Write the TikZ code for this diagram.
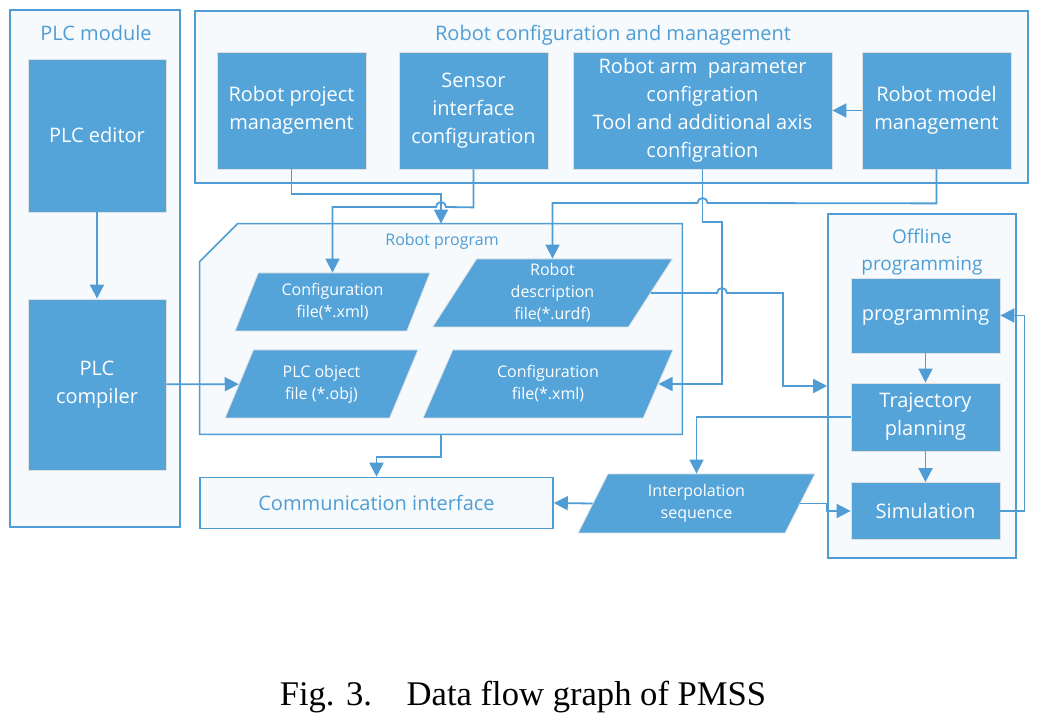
\documentclass[tikz,border=0pt]{standalone}
\usepackage{fontspec}
\setmainfont{Liberation Serif}
\newfontfamily\diagfont{Open Sans}
\usepackage{xcolor}
\usepackage{tikz}
\usetikzlibrary{arrows.meta,shapes.geometric}

\definecolor{boxblue}{RGB}{84,164,218}
\definecolor{lineblue}{RGB}{79,157,212}
\definecolor{ctfill}{RGB}{246,250,253}

\begin{document}
\begin{tikzpicture}[
  x=0.5pt, y=-0.5pt,
  font=\diagfont\fontsize{10}{14}\selectfont,
  bx/.style={draw=black!12, fill=boxblue, text=white, align=center, inner sep=2pt},
  pg/.style={trapezium, trapezium left angle=68, trapezium right angle=112,
             trapezium stretches=true, draw=black!12, fill=boxblue, text=white,
             align=center, inner sep=1pt, font=\diagfont\fontsize{8}{11}\selectfont},
  ct/.style={draw=lineblue, fill=ctfill, line width=0.8pt, inner sep=0pt},
  tl/.style={text=lineblue, align=center, inner sep=0pt},
  ar/.style={-{Triangle[length=7pt,width=7pt]}, draw=lineblue, line width=0.9pt}
]
\useasboundingbox (0,0) rectangle (1039,721);
% containers
\node[ct, minimum width=85pt, minimum height=258.5pt] (plcm) at (95,268.5) {};
\node[ct, minimum width=416.5pt, minimum height=86pt] (rcm) at (611.5,97) {};
\node[minimum width=241pt, minimum height=105pt, inner sep=0pt] (rprog) at (441,329) {};
\filldraw[ct] (rprog.south west) -- ([yshift=-19pt]rprog.north west) -- ([xshift=19pt]rprog.north west)
  -- (rprog.north east) -- (rprog.south east) -- cycle;
\node[ct, minimum width=94pt, minimum height=172pt] (offl) at (922,386) {};
\node[ct, text=lineblue, minimum width=176.5pt, minimum height=25.5pt] (comm) at (376.5,503)
  {Communication interface};
% container titles
\node[tl] (plcmt) at (96,33) {PLC module};
\node[tl] (rcmt) at (613,35) {Robot configuration and management};
\node[tl, font=\diagfont\fontsize{8}{10}\selectfont] (rprogt) at (442,241) {Robot program};
\node[tl, font=\diagfont\fontsize{9.5}{13.5}\selectfont] (offlt) at (922,252) {Offline\\programming};
% PLC module
\node[bx, minimum width=69pt, minimum height=76.5pt] (plced) at (97,135.5) {PLC editor};
\node[bx, minimum width=69pt, minimum height=85.5pt] (plccomp) at (97,384.5) {PLC\\compiler};
% robot configuration and management
\node[bx, minimum width=74.5pt, minimum height=58.5pt] (rpm) at (291.5,110.5) {Robot project\\management};
\node[bx, minimum width=74.5pt, minimum height=58.5pt] (sic) at (473.5,110.5) {Sensor\\interface\\configuration};
\node[bx, minimum width=129.5pt, minimum height=58.5pt] (rapc) at (702.5,110.5)
  {Robot arm\ \ parameter\\configration\\Tool and additional axis\\configration};
\node[bx, minimum width=74.5pt, minimum height=58.5pt] (rmm) at (936.5,110.5) {Robot model\\management};
% robot program files
\node[pg, minimum width=97.5pt, minimum height=29pt] (cfga) at (332.5,302) {Configuration\\file(*.xml)};
\node[pg, minimum width=120.5pt, minimum height=34pt] (urdf) at (552.5,293) {Robot\\description\\file(*.urdf)};
\node[pg, minimum width=96.5pt, minimum height=34pt] (plcobj) at (321.5,384) {PLC object\\file (*.obj)};
\node[pg, minimum width=125pt, minimum height=34pt] (cfgb) at (548,384) {Configuration\\file(*.xml)};
\node[pg, minimum width=118.5pt, minimum height=29.5pt] (interp) at (696.5,503.5) {Interpolation\\sequence};
% offline programming
\node[bx, minimum width=74.5pt, minimum height=37.5pt] (prog) at (925.5,315.5) {programming};
\node[bx, minimum width=74.5pt, minimum height=34pt] (traj) at (925.5,417) {Trajectory\\planning};
\node[bx, minimum width=74.5pt, minimum height=28.5pt] (sim) at (925.5,511) {Simulation};
% caption
\node[anchor=base, inner sep=0pt, font=\fontsize{17.3}{22}\selectfont] (cap) at (523,705)
  {Fig. 3.\quad Data flow graph of PMSS};
% arrows
\draw[ar] (plced) -- (plccomp);
\draw[ar] (plccomp) -- (plcobj);
\draw[ar] (rmm) -- (rapc);
\draw[ar] (rpm.south) -- ++(0,25) -| (rprog.north);
\draw[ar] (sic.south) -- ++(0,38) -- (446,207) arc[start angle=0, end angle=180, radius=2.5pt] -| (cfga.north);
\draw[ar] (rmm.south) -- ++(0,34) -- (707.5,203) arc[start angle=0, end angle=180, radius=2.5pt] -| (urdf.north);
\draw[ar] (rapc.south) |- (722,222) |- (cfgb.east);
\draw[ar] (urdf.east) -- (717,293) arc[start angle=180, end angle=0, radius=2.5pt] -- (783,293) |- (offl.west);
\draw[ar] (rprog.south) -- ++(0,23) -| (comm.north);
\draw[ar] (prog) -- (traj);
\draw[ar] (traj) -- (sim);
\draw[ar] (sim.east) -- ++(24,0) |- (prog.east);
\draw[ar] (traj.west) -| (interp.north);
\draw[ar] (interp.west) -- (comm.east);
\draw[ar] (interp.east) -- ++(26,0) |- (sim.west);
\end{tikzpicture}
\end{document}
